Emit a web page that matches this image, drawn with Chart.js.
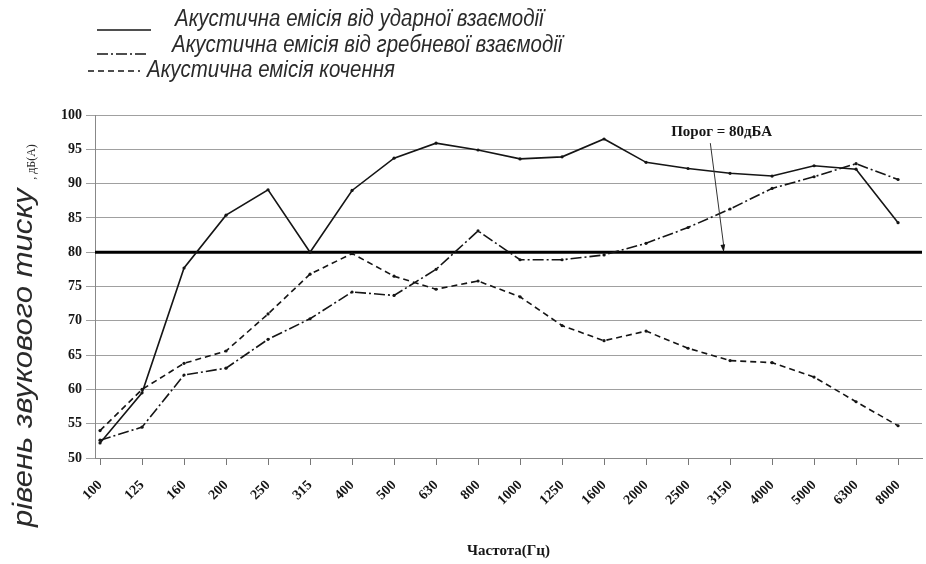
<!DOCTYPE html>
<html>
<head>
<meta charset="utf-8">
<script src="https://cdn.jsdelivr.net/npm/chart.js@4.4.1/dist/chart.umd.min.js"></script>
<style>
  html, body { margin: 0; padding: 0; background: #fff; }
  canvas { display: block; }
</style>
</head>
<body>
<canvas id="chart" width="926" height="564"></canvas>
<script>
// 1/3-octave band centre frequencies, Hz
const freqLabels = ['100', '125', '160', '200', '250', '315', '400', '500', '630', '800',
  '1000', '1250', '1600', '2000', '2500', '3150', '4000', '5000', '6300', '8000'];

// sound pressure level, dB(A)
const impactEmission = [52.2, 59.5, 77.7, 85.4, 89.1, 80.0, 89.0, 93.7, 95.9, 94.9,
  93.6, 93.9, 96.5, 93.1, 92.2, 91.5, 91.1, 92.6, 92.1, 84.3];
const meshingEmission = [52.6, 54.5, 62.1, 63.1, 67.3, 70.3, 74.2, 73.7, 77.5, 83.1,
  78.9, 78.9, 79.6, 81.3, 83.6, 86.3, 89.3, 91.0, 92.9, 90.6];
const rollingEmission = [54.0, 60.0, 63.8, 65.6, 71.0, 76.8, 79.8, 76.5, 74.6, 75.8,
  73.5, 69.3, 67.1, 68.5, 66.0, 64.2, 63.9, 61.8, 58.2, 54.7];

const yTicks = [50, 55, 60, 65, 70, 75, 80, 85, 90, 95, 100];
const threshold = 80;
const thresholdText = 'Порог = 80дБА';
// where the callout sits, in axis units (band index, dB)
const calloutText = { x: 14.8, y: 97.5 };
const calloutFrom = { x: 14.53, y: 95.9 };

const seriesNames = [
  'Акустична емісія від ударної взаємодії',
  'Акустична емісія від гребневої взаємодії',
  'Акустична емісія кочення'
];

function toPoints(arr) {
  return arr.map((v, i) => ({ x: i, y: v }));
}

const ink = '#151515';
const serif = "'Liberation Serif', 'Times New Roman', serif";
const hand = "'Liberation Sans Narrow', 'Liberation Sans', sans-serif";

// legend, threshold line, callout and y title
const extras = {
  id: 'extras',
  beforeDatasetsDraw(chart) {
    const { ctx, chartArea: a, scales: { y } } = chart;
    const py = y.getPixelForValue(threshold);
    ctx.save();
    ctx.strokeStyle = '#000';
    ctx.lineWidth = 3;
    ctx.beginPath();
    ctx.moveTo(a.left, py);
    ctx.lineTo(a.right, py);
    ctx.stroke();
    ctx.restore();
  },
  afterDraw(chart) {
    const { ctx, scales: { x, y } } = chart;
    ctx.save();

    // callout
    const tx = x.getPixelForValue(calloutText.x);
    const ty = y.getPixelForValue(calloutText.y);
    ctx.fillStyle = ink;
    ctx.font = 'bold 15px ' + serif;
    ctx.textAlign = 'center';
    ctx.textBaseline = 'middle';
    ctx.fillText(thresholdText, tx, ty);

    const x0 = x.getPixelForValue(calloutFrom.x), y0 = y.getPixelForValue(calloutFrom.y);
    const x1 = x.getPixelForValue(calloutText.x + 0.05), y1 = y.getPixelForValue(threshold);
    ctx.strokeStyle = '#333';
    ctx.lineWidth = 1;
    ctx.beginPath();
    ctx.moveTo(x0, y0);
    ctx.lineTo(x1, y1 - 6);
    ctx.stroke();
    const ang = Math.atan2(y1 - y0, x1 - x0);
    ctx.beginPath();
    ctx.moveTo(x1, y1);
    ctx.lineTo(x1 - 8 * Math.cos(ang - 0.3), y1 - 8 * Math.sin(ang - 0.3));
    ctx.lineTo(x1 - 8 * Math.cos(ang + 0.3), y1 - 8 * Math.sin(ang + 0.3));
    ctx.closePath();
    ctx.fill();

    // legend
    const rows = [
      { lx0: 97, lx1: 151, ly: 30, tx: 175, ty: 20 },
      { lx0: 97, lx1: 147, ly: 54, tx: 172, ty: 46 },
      { lx0: 88, lx1: 140, ly: 71, tx: 147, ty: 71 }
    ];
    chart.data.datasets.forEach((ds, i) => {
      const r = rows[i];
      ctx.strokeStyle = ink;
      ctx.lineWidth = 1.6;
      ctx.setLineDash(ds.borderDash || []);
      ctx.beginPath();
      ctx.moveTo(r.lx0, r.ly);
      ctx.lineTo(r.lx1, r.ly);
      ctx.stroke();
      ctx.setLineDash([]);
      ctx.save();
      ctx.fillStyle = '#2a2a2a';
      ctx.translate(r.tx, r.ty);
      ctx.scale(0.89, 1);
      ctx.font = 'italic 23px ' + hand;
      ctx.textAlign = 'left';
      ctx.textBaseline = 'middle';
      ctx.fillText(ds.label, 0, 0);
      ctx.restore();
    });

    // y axis title
    ctx.fillStyle = '#2a2a2a';
    ctx.translate(24, 527);
    ctx.rotate(-Math.PI / 2);
    ctx.textAlign = 'left';
    ctx.textBaseline = 'middle';
    ctx.save();
    ctx.scale(1.15, 1);
    ctx.font = 'italic 27px ' + hand;
    const main = 'рівень звукового тиску';
    ctx.fillText(main, 0, 0);
    const w = ctx.measureText(main + ' ').width * 1.15;
    ctx.restore();
    ctx.font = '12px ' + serif;
    ctx.fillText(', дБ(А)', w, 8);
    ctx.restore();
  }
};

new Chart(document.getElementById('chart'), {
  type: 'line',
  data: {
    datasets: [
      {
        label: seriesNames[0],
        data: toPoints(impactEmission),
        borderColor: ink, borderWidth: 1.6, borderDash: [],
        pointRadius: 1.6, pointBackgroundColor: ink, pointBorderWidth: 0
      },
      {
        label: seriesNames[1],
        data: toPoints(meshingEmission),
        borderColor: ink, borderWidth: 1.6, borderDash: [11, 3, 2, 3],
        pointRadius: 1.6, pointBackgroundColor: ink, pointBorderWidth: 0
      },
      {
        label: seriesNames[2],
        data: toPoints(rollingEmission),
        borderColor: ink, borderWidth: 1.6, borderDash: [6, 4],
        pointRadius: 1.6, pointBackgroundColor: ink, pointBorderWidth: 0
      }
    ]
  },
  options: {
    responsive: false,
    animation: false,
    devicePixelRatio: 1,
    layout: { padding: { top: 115, left: 0, right: 0, bottom: 0 } },
    plugins: { legend: { display: false }, tooltip: { enabled: false } },
    scales: {
      x: {
        type: 'linear',
        min: -0.12,
        max: 19.57,
        afterBuildTicks: s => { s.ticks = freqLabels.map((_, i) => ({ value: i })); },
        afterFit: s => { s.height = 106; },
        grid: { drawOnChartArea: false, drawTicks: true, tickLength: 7, color: '#777' },
        border: { color: '#888', width: 1 },
        ticks: {
          autoSkip: false, minRotation: 45, maxRotation: 45, padding: 12,
          color: ink, font: { family: serif, size: 14, weight: 'bold' },
          callback: v => freqLabels[v]
        },
        title: {
          display: true, text: 'Частота(Гц)', color: ink,
          font: { family: serif, size: 15, weight: 'bold' }, padding: { top: 2, bottom: 4 }
        }
      },
      y: {
        min: 50,
        max: 100,
        afterBuildTicks: s => { s.ticks = yTicks.map(v => ({ value: v })); },
        afterFit: s => { s.width = 95; },
        grid: { color: '#a0a0a0', lineWidth: 1, tickLength: 9 },
        border: { color: '#888', width: 1 },
        ticks: {
          padding: 4, color: ink,
          font: { family: serif, size: 14, weight: 'bold' }
        }
      }
    }
  },
  plugins: [extras]
});
</script>
</body>
</html>
